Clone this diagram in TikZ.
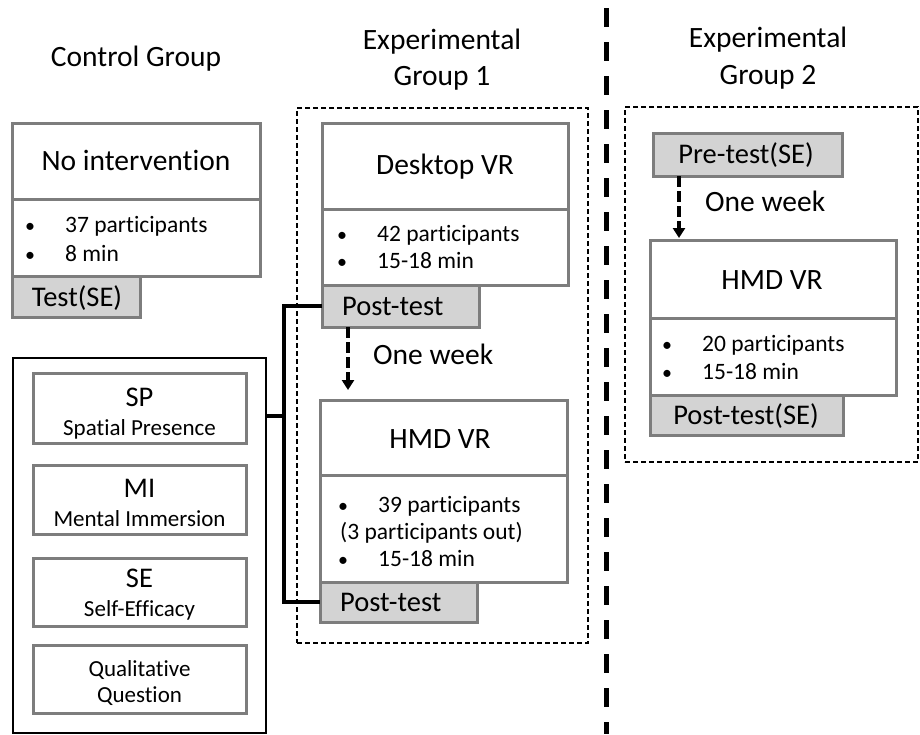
\documentclass[tikz,border=0pt]{standalone}
\usepackage{fontspec}
\setmainfont[Ligatures=NoCommon]{Carlito}
\usetikzlibrary{arrows.meta}
\definecolor{bordergray}{RGB}{125,125,125}
\definecolor{testgray}{RGB}{211,211,211}
\newcommand{\fs}[1]{\fontsize{#1}{#1}\selectfont}
\tikzset{
  box/.style={draw=bordergray, line width=3pt, fill=white, inner sep=0pt, outer sep=0pt, anchor=north west},
  testbox/.style={box, fill=testgray},
  grpbox/.style={draw=black, line width=1.5pt, dash pattern=on 5pt off 3pt, inner sep=0pt, outer sep=0pt, anchor=north west},
  blackbox/.style={draw=black, line width=2pt, inner sep=0pt, outer sep=0pt, anchor=north west},
  txtbase/.style={inner sep=0pt, yshift=-6.5pt},
  head/.style={txtbase, font=\fs{29.5}, anchor=mid},
  testtxt/.style={txtbase, font=\fs{28.5}, anchor=mid},
  bul/.style={txtbase, font=\fs{20}, anchor=mid},
  item/.style={txtbase, font=\fs{23.5}, anchor=mid west},
  sub/.style={txtbase, font=\fs{23}, anchor=mid},
  abbr/.style={txtbase, font=\fs{28.5}, anchor=mid},
  conn/.style={draw=black, line width=3.5pt},
  darr/.style={draw=black, line width=4pt, dash pattern=on 11pt off 4pt, -{Triangle[width=12pt,length=10pt]}},
  vline/.style={draw=black, line width=5pt, dash pattern=on 19pt off 15pt}
}
\begin{document}
\begin{tikzpicture}[x=1pt,y=-1pt]
\useasboundingbox (0,0) rectangle (920,734);

% titles
\node[head] (tc) at (136,58) {Control Group};
\node[head] (te1a) at (442,41) {Experimental};
\node[head] (te1b) at (442,77) {Group 1};
\node[head] (te2a) at (768,39) {Experimental};
\node[head] (te2b) at (768,76) {Group 2};

% vertical separator
\coordinate (vtop) at (606,8);
\coordinate (vbot) at (606,734);
\draw[vline] (vtop) -- (vbot);

% group boxes
\node[grpbox, minimum width=291pt, minimum height=535pt] (g1) at (297,108) {};
\node[grpbox, minimum width=293pt, minimum height=355pt] (g2) at (625,107) {};

% control group
\node[box, minimum width=248pt, minimum height=76pt] (c1) at (12,123) {};
\node[box, minimum width=248pt, minimum height=77pt] (c2) at (12,199) {};
\node[testbox, minimum width=128pt, minimum height=41pt] (ct) at (12,276) {};
\node[head] (c1t) at (136,162) {No intervention};
\node[bul] (c2b1) at (30,224) {•};
\node[item] (c2i1) at (65,224) {37 participants};
\node[bul] (c2b2) at (30,253) {•};
\node[item] (c2i2) at (65,253) {8 min};
\node[testtxt] (ctt) at (77,298) {Test(SE)};

% measures box
\node[blackbox, minimum width=253pt, minimum height=375pt] (lb) at (13,358) {};
\node[box, minimum width=213pt, minimum height=70pt] (sp) at (33,373) {};
\node[box, minimum width=213pt, minimum height=69pt] (mi) at (33,465) {};
\node[box, minimum width=213pt, minimum height=68pt] (se) at (33,558) {};
\node[box, minimum width=213pt, minimum height=68pt] (qq) at (33,645) {};
\node[abbr] (spa) at (139.5,398) {SP};
\node[sub] (spb) at (139.5,427) {Spatial Presence};
\node[abbr] (mia) at (139.5,489) {MI};
\node[sub] (mib) at (139.5,518) {Mental Immersion};
\node[abbr] (sea) at (139.5,579) {SE};
\node[sub] (seb) at (139.5,608) {Self-Efficacy};
\node[sub] (qqa) at (139.5,668) {Qualitative};
\node[sub] (qqb) at (139.5,694) {Question};

% experimental group 1
\node[box, minimum width=246pt, minimum height=86pt] (d1) at (322,123) {};
\node[box, minimum width=246pt, minimum height=76pt] (d2) at (322,209) {};
\node[testbox, minimum width=157pt, minimum height=42pt] (p1) at (322,285) {};
\node[head] (d1t) at (445,166) {Desktop VR};
\node[bul] (d2b1) at (342,233) {•};
\node[item] (d2i1) at (377,233) {42 participants};
\node[bul] (d2b2) at (342,260) {•};
\node[item] (d2i2) at (377,260) {15-18 min};
\node[testtxt, anchor=mid west] (p1t) at (342,307) {Post-test};

\coordinate (a1) at (348,390);
\draw[darr] (p1.south -| a1) -- (a1);
\node[head, anchor=mid west] (w1) at (373,356) {One week};

\node[box, minimum width=247pt, minimum height=75pt] (h1) at (320,400) {};
\node[box, minimum width=247pt, minimum height=107pt] (h2) at (320,475) {};
\node[testbox, minimum width=157pt, minimum height=40pt] (p2) at (320,582) {};
\node[head] (h1t) at (440,440) {HMD VR};
\node[bul] (h2b1) at (343,504) {•};
\node[item] (h2i1) at (378,504) {39 participants};
\node[item] (h2i2) at (340,531) {(3 participants out)};
\node[bul] (h2b3) at (343,558) {•};
\node[item] (h2i3) at (378,558) {15-18 min};
\node[testtxt, anchor=mid west] (p2t) at (340,603) {Post-test};

% connector from measures to post-tests
\coordinate (jx) at (284,416);
\draw[conn] (p1.west) -| (jx) |- (p2.west);
\draw[conn] (lb.east |- jx) -- (jx);

% experimental group 2
\node[testbox, minimum width=189pt, minimum height=43pt] (pre) at (653,133) {};
\node[testtxt] (pret) at (746,155) {Pre-test(SE)};
\coordinate (a2) at (679,238);
\draw[darr] (pre.south -| a2) -- (a2);
\node[head, anchor=mid west] (w2) at (705,203) {One week};

\node[box, minimum width=246pt, minimum height=78pt] (k1) at (650,240) {};
\node[box, minimum width=246pt, minimum height=77pt] (k2) at (650,318) {};
\node[testbox, minimum width=193pt, minimum height=40pt] (p3) at (650,395) {};
\node[head] (k1t) at (772,281) {HMD VR};
\node[bul] (k2b1) at (667,343) {•};
\node[item] (k2i1) at (702,343) {20 participants};
\node[bul] (k2b2) at (667,371) {•};
\node[item] (k2i2) at (702,371) {15-18 min};
\node[testtxt] (p3t) at (746,416) {Post-test(SE)};
\end{tikzpicture}
\end{document}
